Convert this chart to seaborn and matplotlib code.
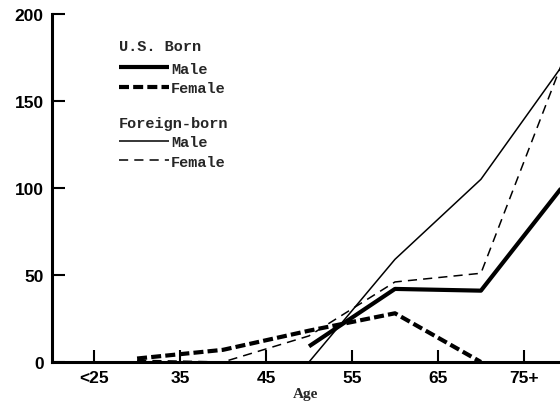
import matplotlib
matplotlib.use("Agg")
import matplotlib.pyplot as plt
import seaborn as sns
import pandas as pd

# ── data ───────────────────────────────────────────────────────────────────
ages_us_male   = [50, 60, 70, 80]
us_male        = [9, 42, 41, 104]
ages_us_female = [30, 40, 50, 60, 70]
us_female      = [2, 7, 18, 28, 0]
ages_fb_male   = [50, 60, 70, 80]
fb_male        = [0, 59, 105, 174]
ages_fb_female = [30, 40, 50, 60, 70, 80]
fb_female      = [1, 0, 15, 46, 51, 179]

tick_pos    = [25, 35, 45, 55, 65, 75]
tick_labels = ["<25", "35", "45", "55", "65", "75+"]
y_ticks     = [0, 50, 100, 150, 200]

sns.set_style("white")

fig = plt.figure(figsize=(5.6, 4.06), dpi=100)
ax = fig.add_axes([52 / 560, 43 / 406, 508 / 560, 348 / 406])

styles = {
    "us_m": dict(lw=3.0, ls="-"),
    "us_f": dict(lw=3.0, ls=(0, (2.4, 1.0))),
    "fb_m": dict(lw=1.1, ls="-"),
    "fb_f": dict(lw=1.1, ls=(0, (6, 4))),
}

handles = {}
for key, x, y in [("us_m", ages_us_male, us_male),
                  ("us_f", ages_us_female, us_female),
                  ("fb_m", ages_fb_male, fb_male),
                  ("fb_f", ages_fb_female, fb_female)]:
    df = pd.DataFrame({"age": x, "rate": y})
    sns.lineplot(data=df, x="age", y="rate", ax=ax, color="black",
                 linewidth=styles[key]["lw"], linestyle=styles[key]["ls"],
                 solid_capstyle="butt", dash_capstyle="butt", clip_on=True)
    handles[key] = ax.lines[-1]

ax.set_xlim(20.1, 79.2)
ax.set_ylim(0, 200)
ax.set_xticks(tick_pos)
ax.set_xticklabels(tick_labels)
ax.set_yticks(y_ticks)

for s in ["top", "right"]:
    ax.spines[s].set_visible(False)
for s in ["left", "bottom"]:
    ax.spines[s].set_linewidth(2.2)
    ax.spines[s].set_color("black")

ax.tick_params(direction="in", length=9, width=1.5, colors="black",
               bottom=True, left=True, pad=6)
for lab in ax.get_xticklabels() + ax.get_yticklabels():
    lab.set_fontfamily("Liberation Sans")
    lab.set_fontweight("bold")
    lab.set_fontsize(12.5)

ax.set_xlabel("Age", fontfamily="Liberation Serif", fontweight="bold",
              fontsize=11, labelpad=1)
ax.set_ylabel("")

leg_font = dict(family="Liberation Mono", weight="bold", size=11)
leg_kw = dict(loc="upper left", frameon=False, prop=leg_font,
              handlelength=3.3, handletextpad=0.1, labelspacing=0.35,
              borderaxespad=0, alignment="left")
leg1 = ax.legend([handles["us_m"], handles["us_f"]], ["Male", "Female"],
                 title="U.S. Born", bbox_to_anchor=(0.12, 0.945), **leg_kw)
leg1.get_title().set_fontproperties(leg_font)
leg1._legend_box.sep = 6
ax.add_artist(leg1)
leg2 = ax.legend([handles["fb_m"], handles["fb_f"]], ["Male", "Female"],
                 title="Foreign-born", bbox_to_anchor=(0.12, 0.725), **leg_kw)
leg2.get_title().set_fontproperties(leg_font)
leg2._legend_box.sep = 4

fig.savefig("out.png", dpi=100)
